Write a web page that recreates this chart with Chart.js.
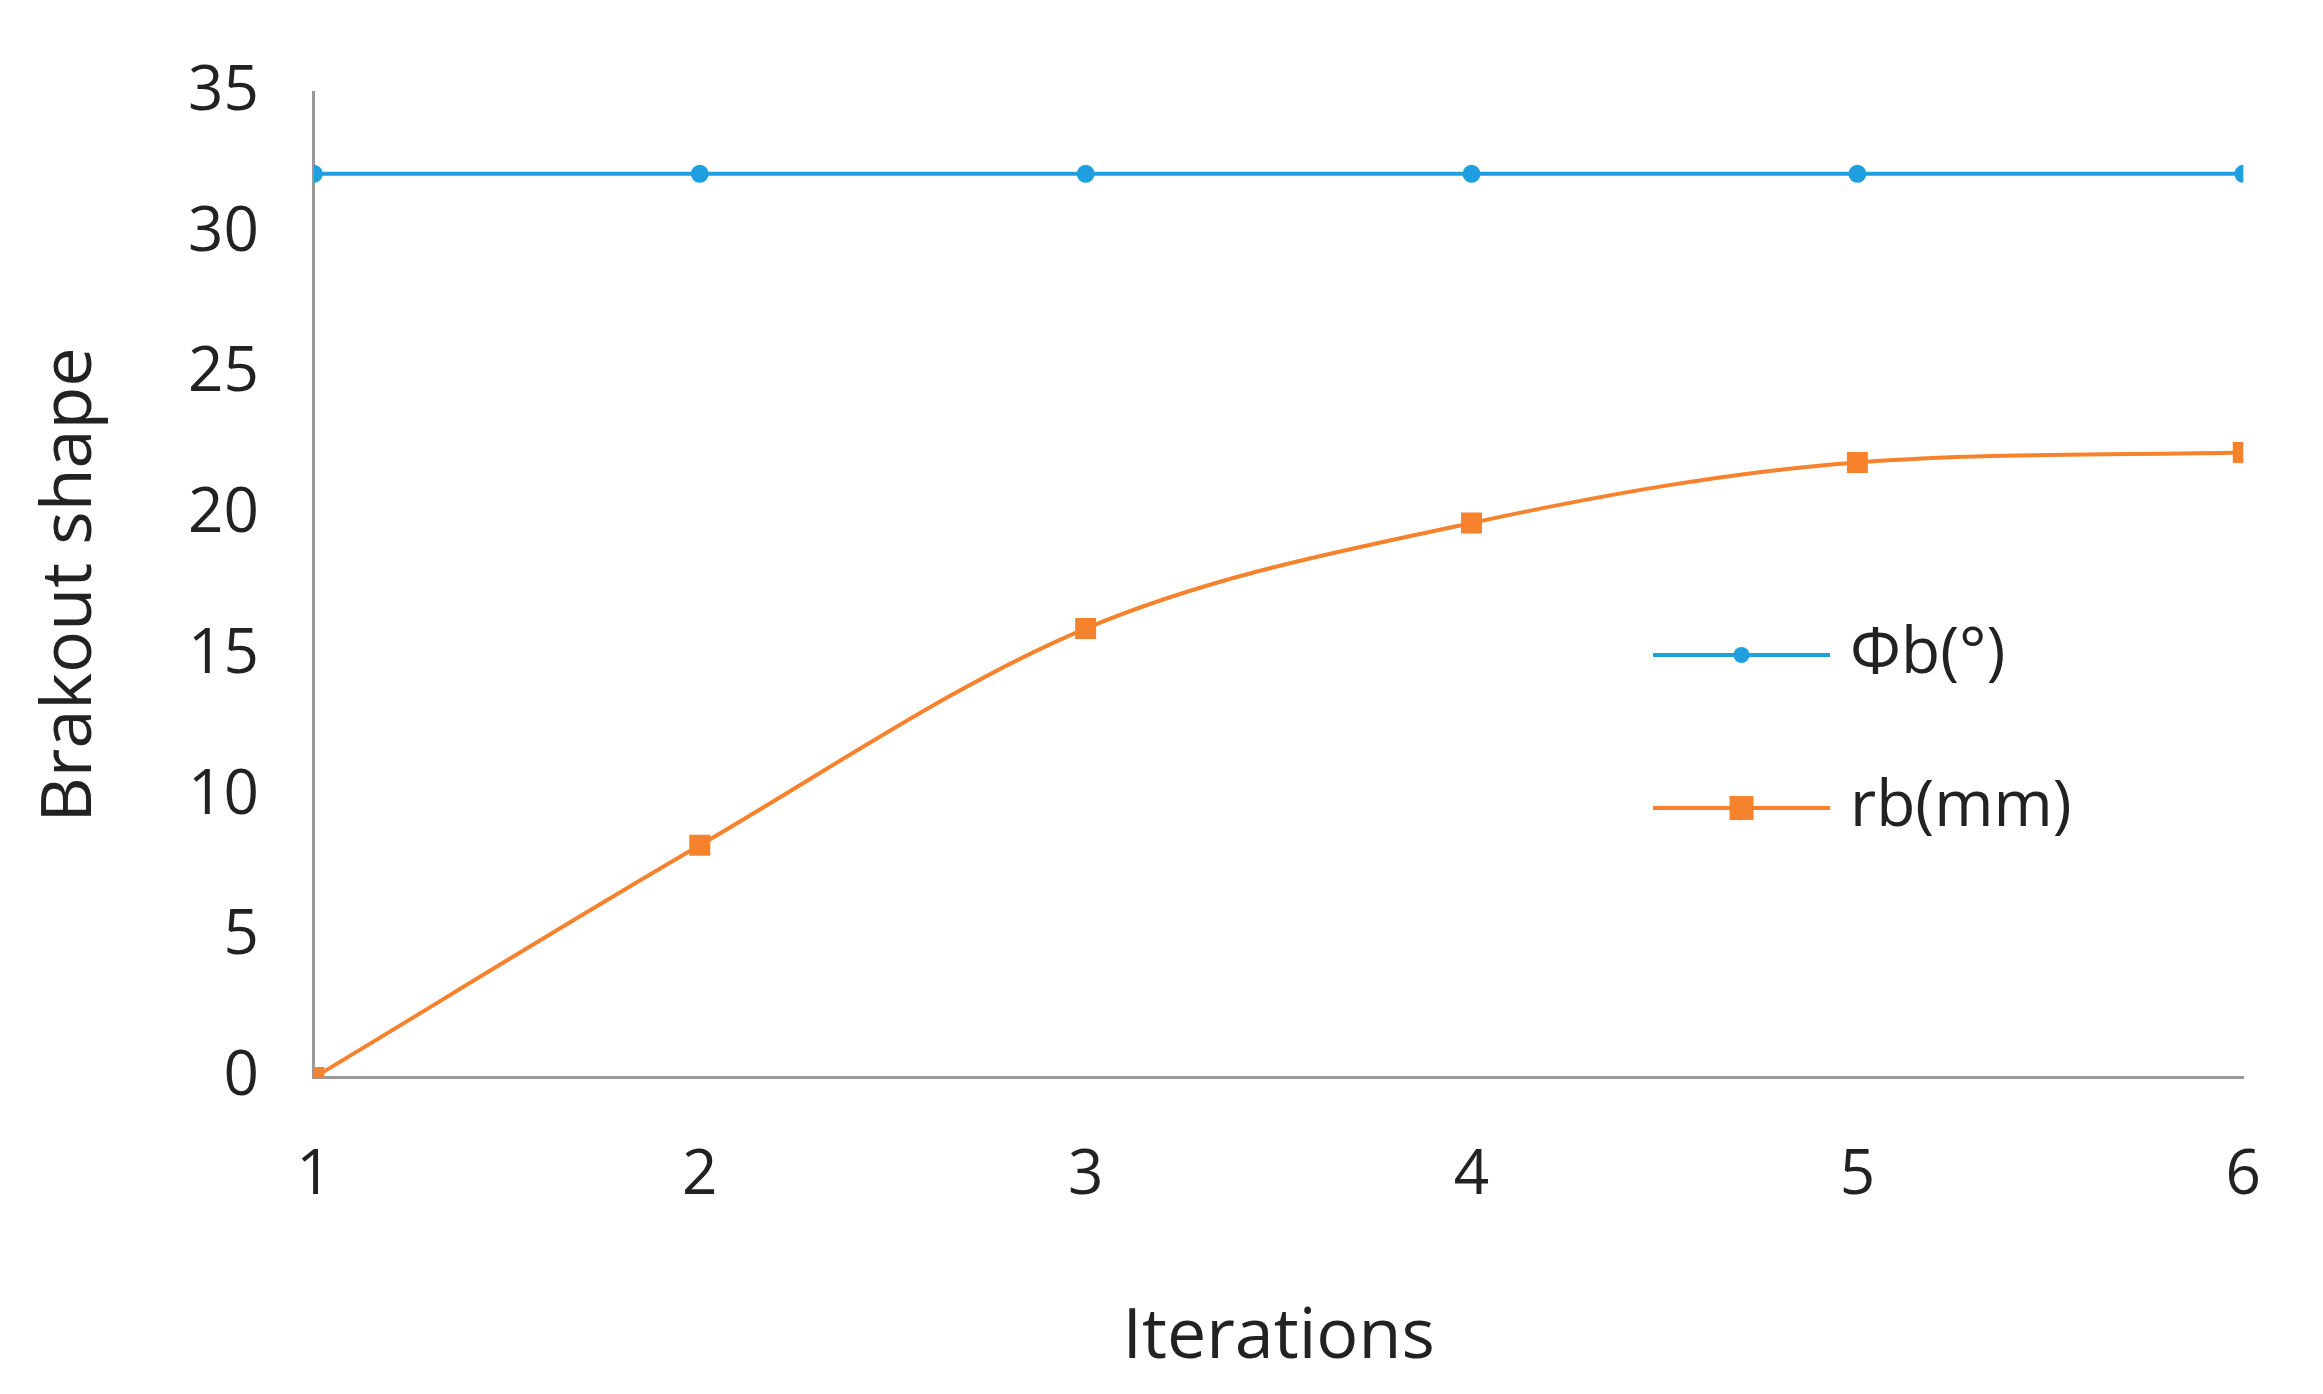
<!DOCTYPE html>
<html><head><meta charset="utf-8">
<script src="https://cdn.jsdelivr.net/npm/chart.js@4"></script>
<style>html,body{margin:0;padding:0;background:#fff}#w{width:2323px;height:1394px}</style>
</head><body><div id="w"><canvas id="c"></canvas></div>
<script>
const iterations = [1, 2, 3, 4, 5, 6];
const phiB = [32.1, 32.1, 32.1, 32.1, 32.1, 32.1];
const rB = [0, 8.25, 15.95, 19.7, 21.85, 22.2];
const yTicks = [0, 5, 10, 15, 20, 25, 30, 35];
const FONT = "'Open Sans', 'DejaVu Sans', sans-serif";

const legendPlugin = {
  id: 'inLegend',
  afterDraw(chart) {
    const ctx = chart.ctx;
    const x0 = 1653, x1 = 1830, ys = [655, 808];
    chart.data.datasets.forEach((ds, i) => {
      const y = ys[i];
      ctx.save();
      ctx.strokeStyle = ds.borderColor; ctx.lineWidth = 4;
      ctx.beginPath(); ctx.moveTo(x0, y); ctx.lineTo(x1, y); ctx.stroke();
      ctx.fillStyle = ds.borderColor;
      const m = (x0 + x1) / 2;
      if (ds.pointStyle === 'rect') ctx.fillRect(m - 12, y - 12, 24, 24);
      else { ctx.beginPath(); ctx.arc(m, y, 8, 0, Math.PI * 2); ctx.fill(); }
      ctx.fillStyle = '#222'; ctx.font = '64px ' + FONT; ctx.textBaseline = 'middle';
      ctx.fillText(ds.label, x1 + 20, y);
      ctx.restore();
    });
  }
};

new Chart(document.getElementById('c'), {
  type: 'line',
  data: {
    datasets: [
      { label: 'Φb(°)', data: iterations.map((x, i) => ({x, y: phiB[i]})), borderColor: '#1f9ee0', backgroundColor: '#1f9ee0', borderWidth: 4, pointStyle: 'circle', pointRadius: 7 },
      { label: 'rb(mm)', data: iterations.map((x, i) => ({x, y: rB[i]})), borderColor: '#f7822e', backgroundColor: '#f7822e', borderWidth: 4, pointStyle: 'rect', pointRadius: 12, cubicInterpolationMode: 'monotone' }
    ]
  },
  options: {
    responsive: true, maintainAspectRatio: false, animation: false,
    layout: { padding: { left: 25, right: 28, top: 10, bottom: 10 } },
    plugins: { legend: { display: false }, tooltip: { enabled: false } },
    scales: {
      x: { type: 'linear', min: 1, max: 6,
        grid: { display: false, drawTicks: false }, border: { color: '#999', width: 3 },
        afterBuildTicks: s => { s.ticks = iterations.map(v => ({value: v})); },
        ticks: { color: '#222', font: { size: 62, family: FONT }, padding: 62 },
        title: { display: true, text: 'Iterations', color: '#222', font: { size: 70, family: FONT }, padding: { top: 20 } } },
      y: { min: 0, max: 35,
        grid: { display: false, drawTicks: false }, border: { color: '#999', width: 3 },
        afterBuildTicks: s => { s.ticks = yTicks.map(v => ({value: v})); },
        ticks: { color: '#222', font: { size: 62, family: FONT }, padding: 55 },
        title: { display: true, text: 'Brakout shape', color: '#222', font: { size: 70, family: FONT }, padding: { bottom: 20 } } }
    }
  },
  plugins: [legendPlugin]
});
</script></body></html>
